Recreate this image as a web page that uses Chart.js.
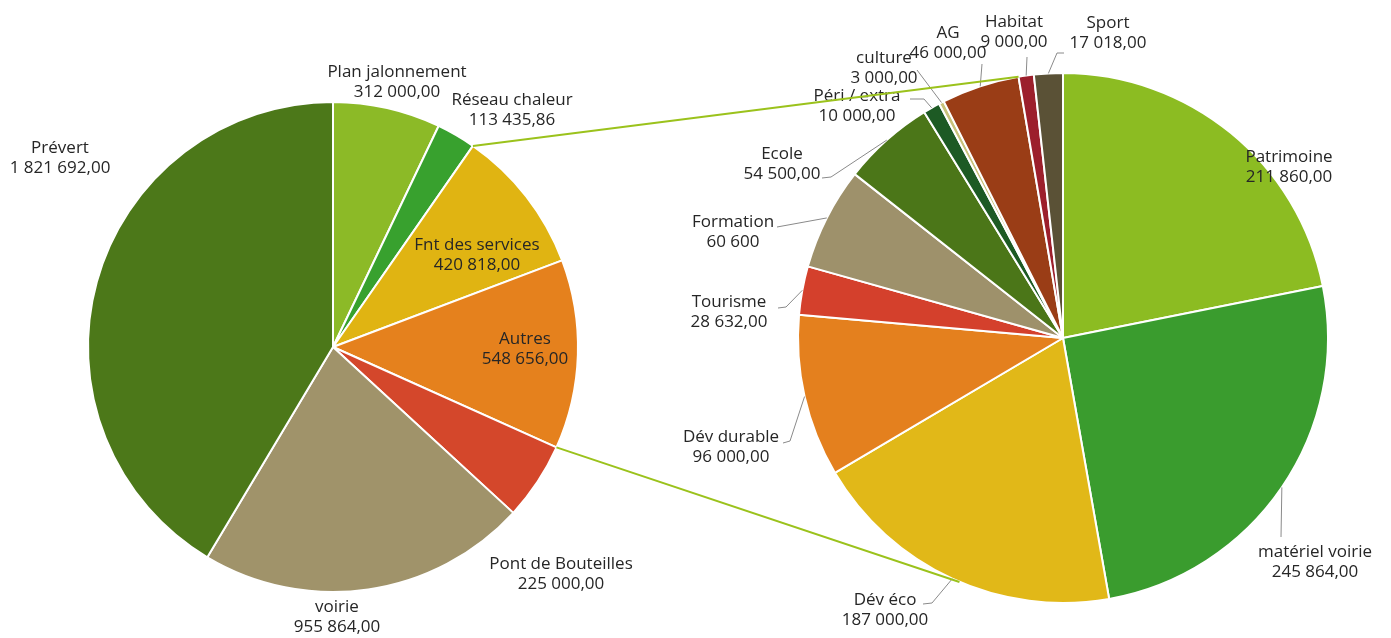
<!DOCTYPE html>
<html>
<head>
<meta charset="utf-8">
<script src="https://cdn.jsdelivr.net/npm/chart.js@4"></script>
<style>
  html, body { margin: 0; background: #fff; }
  #wrap { position: relative; width: 1391px; height: 638px; }
  #wrap canvas { position: absolute; left: 0; top: 0; }
</style>
</head>
<body>
<div id="wrap">
  <canvas id="leftPie" width="1391" height="638"></canvas>
  <canvas id="rightPie" width="1391" height="638"></canvas>
</div>
<script>
// camembert principal
const LEFT_LABELS = ['Plan jalonnement', 'Réseau chaleur', 'Fnt des services', 'Autres', 'Pont de Bouteilles', 'voirie', 'Prévert'];
const LEFT_VALUES = [312000, 113435.86, 420818, 548656, 225000, 955864, 1821692];
const LEFT_DECIMALS = [2, 2, 2, 2, 2, 2, 2];
const LEFT_COLORS = ['#8cba27', '#38a12e', '#e0b412', '#e5811d', '#d4472b', '#a0936a', '#4c7819'];

// détail (Fnt des services + Autres)
const RIGHT_LABELS = ['Patrimoine', 'matériel voirie', 'Dév éco', 'Dév durable', 'Tourisme', 'Formation', 'Ecole', 'Péri / extra', 'culture', 'AG', 'Habitat', 'Sport'];
const RIGHT_VALUES = [211860, 245864, 187000, 96000, 28632, 60600, 54500, 10000, 3000, 46000, 9000, 17018];
const RIGHT_DECIMALS = [2, 2, 2, 2, 2, 0, 2, 2, 2, 2, 2, 2];
const RIGHT_COLORS = ['#8cbc22', '#3a9c2e', '#e1b818', '#e4801e', '#d4402c', '#9e916b', '#4b7618', '#1d5a24', '#c8c27a', '#9a3d16', '#9c1f2c', '#5a5136'];

// position des étiquettes (décalage par rapport au centre du camembert, en px)
const LEFT_LABEL_POS = [[64, -275], [179, -247], [144, -102], [192, -8], [228, 217], [4, 260], [-273, -199]];
const RIGHT_LABEL_POS = [[226, -181], [252, 214], [-178, 262], [-332, 99], [-334, -36], [-330, -116], [-281, -184], [-206, -242], [-179, -280], [-115, -305], [-49, -316], [45, -315]];

// lignes de rappel : points côté étiquette, la ligne finit sur le bord de la part
const RIGHT_LEADERS = [
  null,
  [[218, 199]],
  [[-140, 266], [-131, 265]],
  [[-280, 105], [-273, 103]],
  [[-285, -30], [-277, -31]],
  [[-286, -111]],
  [[-241, -160], [-232, -161]],
  [[-153, -239], [-139, -239]],
  [[-146, -268]],
  [[-81, -274]],
  [[-36, -281]],
  [[1, -285], [-6, -285]]
];

const FONT = '17px "Open Sans", "DejaVu Sans", sans-serif';
const TEXT_COLOR = '#262626';
const CONNECTOR_COLOR = '#9bc21c';
const BOTTOM_LINK_ANGLE = 203; // degrés, sens horaire depuis midi, sur le camembert de droite

function fmt(v, dec) {
    const parts = v.toFixed(dec).split('.');
    const grouped = parts[0].replace(/\B(?=(\d{3})+(?!\d))/g, ' ');
    return parts[1] ? grouped + ',' + parts[1] : grouped;
}

function makeLabelPlugin(labels, values, decimals, positions, leaders) {
    return {
        id: 'pieLabels',
        afterDatasetsDraw(chart) {
            const ctx = chart.ctx;
            const arcs = chart.getDatasetMeta(0).data;
            ctx.save();
            arcs.forEach((arc, i) => {
                const cx = arc.x, cy = arc.y;
                // ligne de rappel
                if (leaders && leaders[i]) {
                    const mid = (arc.startAngle + arc.endAngle) / 2;
                    const r = arc.outerRadius;
                    ctx.beginPath();
                    ctx.strokeStyle = '#8a8a8a';
                    ctx.lineWidth = 1;
                    leaders[i].forEach((p, k) => {
                        if (k === 0) ctx.moveTo(cx + p[0], cy + p[1]);
                        else ctx.lineTo(cx + p[0], cy + p[1]);
                    });
                    ctx.lineTo(cx + Math.cos(mid) * r, cy + Math.sin(mid) * r);
                    ctx.stroke();
                }
                // texte
                const pos = positions[i];
                ctx.font = FONT;
                ctx.fillStyle = TEXT_COLOR;
                ctx.textAlign = 'center';
                ctx.textBaseline = 'middle';
                ctx.fillText(labels[i], cx + pos[0], cy + pos[1]);
                ctx.fillText(fmt(values[i], decimals[i]), cx + pos[0], cy + pos[1] + 20);
            });
            ctx.restore();
        }
    };
}

function pieConfig(labels, values, colors, padding, plugin) {
    return {
        type: 'pie',
        data: {
            labels: labels,
            datasets: [{
                data: values,
                backgroundColor: colors,
                borderColor: '#ffffff',
                borderWidth: 2
            }]
        },
        options: {
            responsive: false,
            animation: false,
            events: [],
            layout: { padding: padding },
            plugins: {
                legend: { display: false },
                tooltip: { enabled: false }
            }
        },
        plugins: [plugin]
    };
}

const leftChart = new Chart(document.getElementById('leftPie'), pieConfig(
    LEFT_LABELS, LEFT_VALUES, LEFT_COLORS,
    { left: 87, right: 812, top: 101, bottom: 45 },
    makeLabelPlugin(LEFT_LABELS, LEFT_VALUES, LEFT_DECIMALS, LEFT_LABEL_POS, null)
));

// lignes de liaison entre les deux camemberts
const connectorPlugin = {
    id: 'connectors',
    afterDraw(chart) {
        const leftArcs = leftChart.getDatasetMeta(0).data;
        const rightArcs = chart.getDatasetMeta(0).data;
        const first = leftArcs[LEFT_LABELS.indexOf('Fnt des services')];
        const last = leftArcs[LEFT_LABELS.indexOf('Autres')];
        const ag = rightArcs[RIGHT_LABELS.indexOf('AG')];
        const rx = ag.x, ry = ag.y, rr = ag.outerRadius;
        const bottomAngle = (BOTTOM_LINK_ANGLE - 90) * Math.PI / 180;
        const ctx = chart.ctx;
        ctx.save();
        ctx.strokeStyle = CONNECTOR_COLOR;
        ctx.lineWidth = 2;
        ctx.beginPath();
        ctx.moveTo(first.x + Math.cos(first.startAngle) * first.outerRadius, first.y + Math.sin(first.startAngle) * first.outerRadius);
        ctx.lineTo(rx + Math.cos(ag.endAngle) * rr, ry + Math.sin(ag.endAngle) * rr);
        ctx.moveTo(last.x + Math.cos(last.endAngle) * last.outerRadius, last.y + Math.sin(last.endAngle) * last.outerRadius);
        ctx.lineTo(rx + Math.cos(bottomAngle) * rr, ry + Math.sin(bottomAngle) * rr);
        ctx.stroke();
        ctx.restore();
    }
};

const rightChart = new Chart(document.getElementById('rightPie'), pieConfig(
    RIGHT_LABELS, RIGHT_VALUES, RIGHT_COLORS,
    { left: 797, right: 62, top: 72, bottom: 34 },
    makeLabelPlugin(RIGHT_LABELS, RIGHT_VALUES, RIGHT_DECIMALS, RIGHT_LABEL_POS, RIGHT_LEADERS)
));
rightChart.config.plugins.push(connectorPlugin);
rightChart.update();
</script>
</body>
</html>
